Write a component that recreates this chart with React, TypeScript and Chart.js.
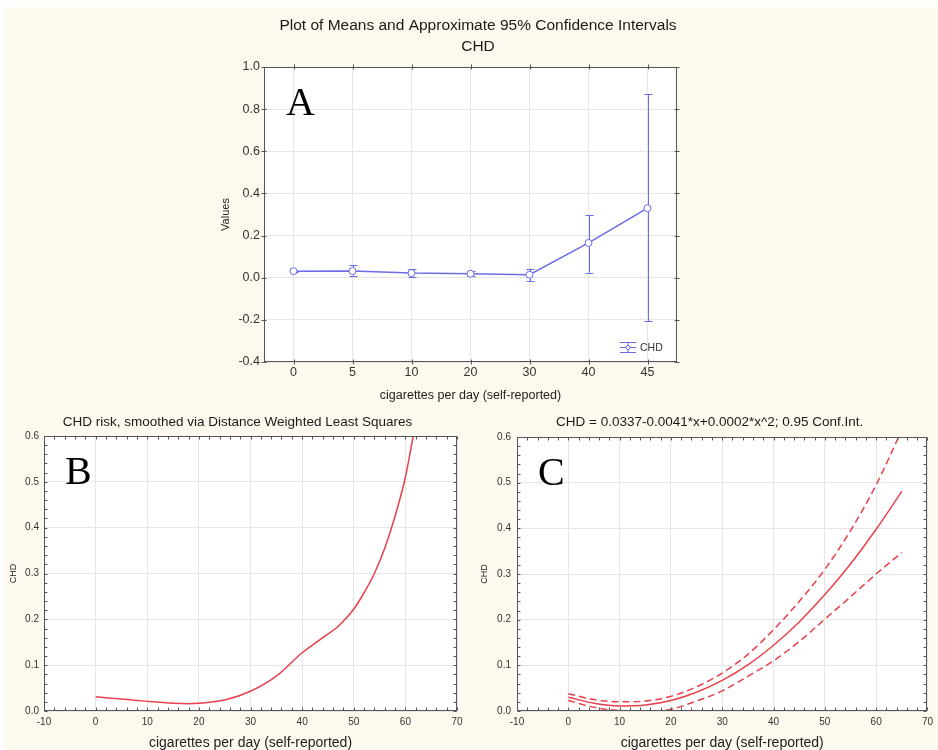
import React, { useEffect, useRef } from 'react';
import { Chart, registerables } from 'chart.js';

Chart.register(...registerables);

// ---------- Panel A: means with approximate 95% CIs ----------
const aCategories = ['0', '5', '10', '20', '30', '40', '45'];
const aMeans = [0.031, 0.032, 0.022, 0.019, 0.014, 0.165, 0.33];
const aLower = [0.029, 0.01, 0.003, 0.008, -0.016, 0.024, -0.207];
const aUpper = [0.033, 0.058, 0.04, 0.03, 0.043, 0.297, 0.873];
const aSeriesName = 'CHD';

// ---------- Panel B: DWLS smoothed curve ----------
const bX = [0, 5, 10, 15, 18, 20, 25, 30, 35, 40, 44, 47, 50, 52, 54, 56, 58, 60, 62];
const bY = [0.031, 0.026, 0.021, 0.017, 0.016, 0.017, 0.024, 0.043, 0.076, 0.127, 0.16, 0.185, 0.222, 0.258, 0.3, 0.355, 0.425, 0.51, 0.63];

// ---------- Panel C: quadratic fit with 0.95 confidence band ----------
const cX = [0, 5, 10, 15, 20, 25, 30, 35, 40, 45, 50, 55, 60, 65];
const cFit = [0.03, 0.017, 0.011, 0.013, 0.023, 0.041, 0.067, 0.101, 0.144, 0.195, 0.255, 0.322, 0.398, 0.481];
const cUpper = [0.038, 0.025, 0.02, 0.022, 0.032, 0.053, 0.083, 0.124, 0.178, 0.24, 0.31, 0.395, 0.495, 0.615];
const cLower = [0.023, 0.008, 0.001, -0.001, 0.004, 0.022, 0.044, 0.076, 0.11, 0.152, 0.201, 0.25, 0.3, 0.347];

const titleA = ['Plot of Means and Approximate 95% Confidence Intervals', 'CHD'];
const titleB = 'CHD risk, smoothed via Distance Weighted Least Squares';
const titleC = 'CHD = 0.0337-0.0041*x+0.0002*x^2; 0.95 Conf.Int.';
const xTitle = 'cigarettes per day (self-reported)';

const SANS = '"Liberation Sans", Arial, Helvetica, sans-serif';
const SERIF = '"Liberation Serif", "Times New Roman", serif';
const BLUE = '#6b6be6';
const RED = '#e8404c';
const FRAME = '#555555';
const GRID = '#e6e6e6';
const BG = '#fef9ee';

const panelPlugin = {
  id: 'panel',
  beforeDraw(chart: any) {
    const { ctx, chartArea: a } = chart;
    ctx.save();
    ctx.fillStyle = '#ffffff';
    ctx.fillRect(a.left, a.top, a.right - a.left, a.bottom - a.top);
    ctx.restore();
  },
  beforeDatasetsDraw(chart: any, _args: any, opts: any) {
    if (!opts.errorBars) return;
    const { ctx } = chart;
    const xs = chart.scales.x;
    const ys = chart.scales.y;
    const { lower, upper, color, cap } = opts.errorBars;
    ctx.save();
    ctx.strokeStyle = color;
    ctx.lineWidth = 1;
    for (let i = 0; i < lower.length; i++) {
      const x = Math.round(xs.getPixelForValue(i)) + 0.5;
      const y1 = ys.getPixelForValue(lower[i]);
      const y2 = ys.getPixelForValue(upper[i]);
      ctx.beginPath();
      ctx.moveTo(x, y1);
      ctx.lineTo(x, y2);
      ctx.moveTo(x - cap, Math.round(y1) + 0.5);
      ctx.lineTo(x + cap, Math.round(y1) + 0.5);
      ctx.moveTo(x - cap, Math.round(y2) + 0.5);
      ctx.lineTo(x + cap, Math.round(y2) + 0.5);
      ctx.stroke();
    }
    ctx.restore();
  },
  afterDatasetsDraw(chart: any, _args: any, opts: any) {
    const { ctx, chartArea: a } = chart;
    const xs = chart.scales.x;
    const ys = chart.scales.y;
    ctx.save();
    ctx.strokeStyle = FRAME;
    ctx.lineWidth = 1;
    const L = Math.round(a.left) + 0.5;
    const R = Math.round(a.right) - 0.5;
    const T = Math.round(a.top) + 0.5;
    const B = Math.round(a.bottom) - 0.5;
    ctx.strokeRect(L, T, R - L, B - T);
    ctx.beginPath();
    if (opts.categoryTicks) {
      for (let i = 0; i < xs.ticks.length; i++) {
        const x = Math.round(xs.getPixelForValue(i)) + 0.5;
        ctx.moveTo(x, T - 3); ctx.lineTo(x, T + 2);
        ctx.moveTo(x, B - 2); ctx.lineTo(x, B + 3);
      }
      ys.ticks.forEach((t: any) => {
        const y = Math.round(ys.getPixelForValue(t.value)) + 0.5;
        ctx.moveTo(L - 3, y); ctx.lineTo(L + 2, y);
        ctx.moveTo(R - 2, y); ctx.lineTo(R + 3, y);
      });
    }
    if (opts.minor) {
      const { xStep, yStep } = opts.minor;
      for (let v = xs.min; v <= xs.max + 1e-9; v += xStep) {
        const x = Math.round(xs.getPixelForValue(v)) + 0.5;
        ctx.moveTo(x, T); ctx.lineTo(x, T + 3);
        ctx.moveTo(x, B); ctx.lineTo(x, B - 3);
      }
      for (let v = ys.min; v <= ys.max + 1e-9; v += yStep) {
        const y = Math.round(ys.getPixelForValue(v)) + 0.5;
        ctx.moveTo(L, y); ctx.lineTo(L + 3, y);
        ctx.moveTo(R, y); ctx.lineTo(R - 3, y);
      }
    }
    ctx.stroke();
    ctx.restore();
  },
  afterDraw(chart: any, _args: any, opts: any) {
    const { ctx, chartArea: a } = chart;
    ctx.save();
    if (opts.title) {
      ctx.fillStyle = '#1a1a1a';
      ctx.font = `${opts.title.size}px ${SANS}`;
      ctx.textAlign = 'center';
      ctx.textBaseline = 'middle';
      opts.title.lines.forEach((line: string, i: number) => {
        ctx.fillText(line, opts.title.x, opts.title.y + i * opts.title.lineGap);
      });
    }
    if (opts.letter) {
      ctx.fillStyle = '#000';
      ctx.font = `40px ${SERIF}`;
      ctx.textAlign = 'left';
      ctx.textBaseline = 'alphabetic';
      ctx.fillText(opts.letter.text, a.left + opts.letter.dx, a.top + opts.letter.dy);
    }
    if (opts.legend) {
      const x0 = a.right - 57;
      const x1 = a.right - 41;
      const ym = a.bottom - 15;
      const xc = (x0 + x1) / 2;
      ctx.strokeStyle = opts.legend.color;
      ctx.lineWidth = 1;
      ctx.beginPath();
      ctx.moveTo(x0, ym - 4.5); ctx.lineTo(x1, ym - 4.5);
      ctx.moveTo(x0, ym + 0.5); ctx.lineTo(x1, ym + 0.5);
      ctx.moveTo(x0, ym + 5.5); ctx.lineTo(x1, ym + 5.5);
      ctx.moveTo(xc, ym - 4.5); ctx.lineTo(xc, ym + 5.5);
      ctx.stroke();
      ctx.fillStyle = '#fff';
      ctx.beginPath();
      ctx.arc(xc, ym + 0.5, 2, 0, Math.PI * 2);
      ctx.fill();
      ctx.stroke();
      ctx.fillStyle = '#333';
      ctx.font = `10.5px ${SANS}`;
      ctx.textAlign = 'left';
      ctx.textBaseline = 'middle';
      ctx.fillText(opts.legend.text, a.right - 37, ym + 1);
    }
    ctx.restore();
  },
};

function tickFmt(v: any) {
  const n = Number(v);
  return (Math.abs(n) < 1e-9 ? 0 : n).toFixed(1);
}

export default function App() {
  const refA = useRef<HTMLCanvasElement>(null);
  const refB = useRef<HTMLCanvasElement>(null);
  const refC = useRef<HTMLCanvasElement>(null);

  useEffect(() => {
    Chart.defaults.font.family = SANS;
    Chart.defaults.color = '#333';

    const chartA = new Chart(refA.current as HTMLCanvasElement, {
      type: 'line',
      data: {
        labels: aCategories,
        datasets: [
          {
            label: aSeriesName,
            data: aMeans,
            borderColor: BLUE,
            borderWidth: 1.5,
            tension: 0,
            pointRadius: 3.5,
            pointBackgroundColor: '#ffffff',
            pointBorderColor: BLUE,
            pointBorderWidth: 1,
          },
        ],
      },
      options: {
        animation: false,
        responsive: false,
        maintainAspectRatio: false,
        devicePixelRatio: 1,
        events: [],
        layout: { padding: { left: 0, top: 67, right: 83, bottom: 0 } },
        plugins: {
          legend: { display: false },
          tooltip: { enabled: false },
          panel: {
            errorBars: { lower: aLower, upper: aUpper, color: BLUE, cap: 4 },
            categoryTicks: true,
            title: { lines: titleA, x: 278, y: 26, lineGap: 21, size: 15.5 },
            letter: { text: 'A', dx: 22, dy: 47.5 },
            legend: { text: aSeriesName, color: BLUE },
          },
        } as any,
        scales: {
          x: {
            type: 'category',
            offset: true,
            grid: { color: GRID, drawTicks: false },
            border: { display: false },
            ticks: { color: '#333', font: { size: 12.5 }, padding: 3.5 },
            title: { display: true, text: xTitle, color: '#222', font: { size: 12.5 }, padding: { top: 0, bottom: 2 } },
            afterFit: (s: any) => { s.height = 43; },
          },
          y: {
            min: -0.4,
            max: 1.0,
            grid: { color: GRID, drawTicks: false },
            border: { display: false },
            ticks: { stepSize: 0.2, color: '#333', font: { size: 12.5 }, padding: 4, callback: tickFmt },
            title: { display: true, text: 'Values', color: '#222', font: { size: 11 }, padding: { top: 19, bottom: 0 } },
            afterFit: (s: any) => { s.width = 64; },
          },
        },
      } as any,
      plugins: [panelPlugin],
    });

    const xyOpts = (cfg: any) => ({
      animation: false,
      responsive: false,
      maintainAspectRatio: false,
      devicePixelRatio: 1,
      events: [],
      layout: { padding: cfg.padding },
      plugins: {
        legend: { display: false },
        tooltip: { enabled: false },
        panel: {
          minor: { xStep: 2, yStep: 0.02 },
          title: { lines: [cfg.title], x: cfg.titleX, y: 22, lineGap: 0, size: 13.5 },
          letter: { text: cfg.letter, dx: 21, dy: 47.5 },
        },
      },
      scales: {
        x: {
          type: 'linear',
          min: -10,
          max: 70,
          grid: { color: GRID, drawTicks: false },
          border: { display: false },
          ticks: { stepSize: 10, color: '#333', font: { size: 10 }, padding: 5 },
          title: { display: true, text: xTitle, color: '#222', font: { size: 14 }, padding: { top: 0, bottom: 8.6 } },
          afterFit: (s: any) => { s.height = 49; },
        },
        y: {
          min: 0,
          max: 0.6,
          grid: { color: GRID, drawTicks: false },
          border: { display: false },
          ticks: { stepSize: 0.1, color: '#333', font: { size: 10 }, padding: cfg.yTickPad, callback: tickFmt },
          title: { display: true, text: 'CHD', color: '#222', font: { size: 9 }, padding: { top: cfg.yTitlePad, bottom: 0 } },
          afterFit: (s: any) => { s.width = cfg.yWidth; },
        },
      },
    });

    const chartB = new Chart(refB.current as HTMLCanvasElement, {
      type: 'line',
      data: {
        datasets: [
          {
            label: 'CHD (DWLS)',
            data: bX.map((x, i) => ({ x, y: bY[i] })),
            borderColor: RED,
            borderWidth: 1.5,
            pointRadius: 0,
            cubicInterpolationMode: 'monotone',
          },
        ],
      },
      options: xyOpts({
        padding: { left: 0, top: 36, right: 13, bottom: 0 },
        title: titleB,
        titleX: 237.5,
        letter: 'B',
        yTickPad: 5,
        yTitlePad: 7.9,
        yWidth: 44,
      }) as any,
      plugins: [panelPlugin],
    });

    const chartC = new Chart(refC.current as HTMLCanvasElement, {
      type: 'line',
      data: {
        datasets: [
          {
            label: 'Fit',
            data: cX.map((x, i) => ({ x, y: cFit[i] })),
            borderColor: RED,
            borderWidth: 1.5,
            pointRadius: 0,
            cubicInterpolationMode: 'monotone',
          },
          {
            label: 'Upper 95%',
            data: cX.map((x, i) => ({ x, y: cUpper[i] })),
            borderColor: RED,
            borderWidth: 1.5,
            borderDash: [7, 4],
            pointRadius: 0,
            cubicInterpolationMode: 'monotone',
          },
          {
            label: 'Lower 95%',
            data: cX.map((x, i) => ({ x, y: cLower[i] })),
            borderColor: RED,
            borderWidth: 1.5,
            borderDash: [7, 4],
            pointRadius: 0,
            cubicInterpolationMode: 'monotone',
          },
        ],
      },
      options: xyOpts({
        padding: { left: 0, top: 37, right: 7, bottom: 0 },
        title: titleC,
        titleX: 239.7,
        letter: 'C',
        yTickPad: 6,
        yTitlePad: 9.6,
        yWidth: 47,
      }) as any,
      plugins: [panelPlugin],
    });

    return () => {
      chartA.destroy();
      chartB.destroy();
      chartC.destroy();
    };
  }, []);

  return (
    <div style={{ position: 'absolute', left: 0, top: 0, width: 938, height: 750, overflow: 'hidden', background: '#ffffff' }}>
      <div style={{ position: 'absolute', left: 4, top: 7, width: 934, height: 743, background: BG }} />
      <canvas ref={refA} width={560} height={405} style={{ position: 'absolute', left: 200, top: 0, display: 'block' }} />
      <canvas ref={refB} width={470} height={360} style={{ position: 'absolute', left: 0, top: 400, display: 'block' }} />
      <canvas ref={refC} width={468} height={360} style={{ position: 'absolute', left: 470, top: 400, display: 'block' }} />
    </div>
  );
}
